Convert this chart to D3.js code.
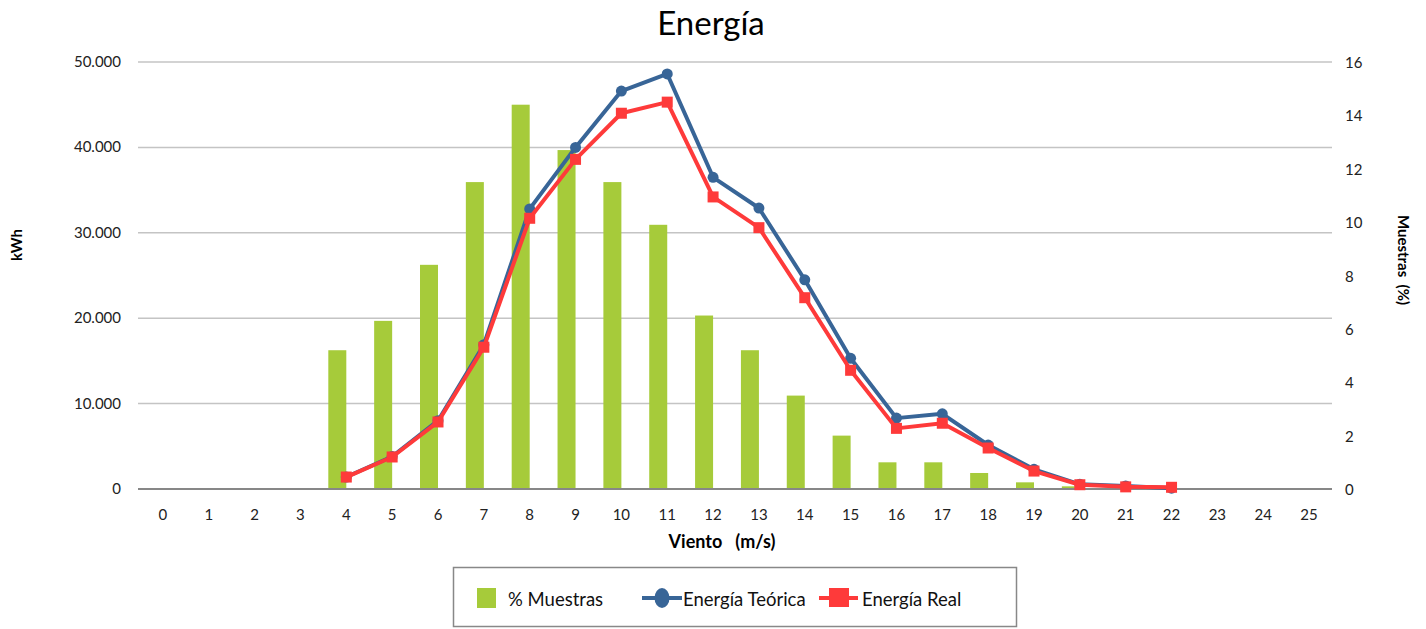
<!DOCTYPE html>
<html><head><meta charset="utf-8">
<script src="https://cdn.jsdelivr.net/npm/d3@7"></script>
<style>body{margin:0;background:#fff;} svg{display:block;font-family:Lato,"Open Sans",sans-serif;}</style>
</head><body><svg id="c" width="1426" height="629"></svg>
<script>
const categories = ["0","1","2","3","4","5","6","7","8","9","10","11","12","13","14","15","16","17","18","19","20","21","22","23","24","25"];
const muestras = [null,null,null,null,5.2,6.3,8.4,11.5,14.4,12.7,11.5,9.9,6.5,5.2,3.5,2.0,1.0,1.0,0.6,0.25,0.1,null,null,null,null,null];
const energiaTeorica = [null,null,null,null,1400,3800,8000,16900,32800,40000,46600,48600,36500,32900,24500,15300,8300,8800,5150,2300,550,350,100,null,null,null];
const energiaReal = [null,null,null,null,1400,3750,7850,16600,31700,38600,44000,45300,34200,30600,22400,13900,7100,7700,4800,2100,500,250,200,null,null,null];
const leftTicks = [0,10000,20000,30000,40000,50000];
const leftTickLabels = ["0","10.000","20.000","30.000","40.000","50.000"];
const rightTicks = [0,2,4,6,8,10,12,14,16];

const svg = d3.select("#c");
const L = 140, R = 1332, T = 62, B = 489;
const x = d3.scaleBand().domain(categories).range([L, R]).padding(0);
const yL = d3.scaleLinear().domain([0, 50000]).range([B, T]);
const yR = d3.scaleLinear().domain([0, 16]).range([B, T]);
const cx = c => x(c) + x.bandwidth() / 2;

const green = "#a6cb3a", blue = "#386597", red = "#fe3a3a";

// title
svg.append("text").attr("x", 711).attr("y", 35).attr("text-anchor", "middle")
  .attr("font-size", 33).attr("fill", "#000").text("Energía");

// gridlines
svg.append("g").selectAll("line").data(leftTicks.slice(1)).join("line")
  .attr("x1", L - 2).attr("x2", R).attr("y1", d => yL(d)).attr("y2", d => yL(d))
  .attr("stroke", "#c4c4c4").attr("stroke-width", 1.5);

// left axis labels
svg.append("g").selectAll("text").data(leftTicks).join("text")
  .attr("x", 121).attr("y", d => yL(d) + 5).attr("text-anchor", "end")
  .attr("font-size", 15).attr("fill", "#222").text((d, i) => leftTickLabels[i]);

// right axis labels
svg.append("g").selectAll("text").data(rightTicks).join("text")
  .attr("x", 1345).attr("y", d => yR(d) + 6).attr("text-anchor", "start")
  .attr("font-size", 15).attr("fill", "#222").text(d => d);

// bars
const barW = 18;
svg.append("g").selectAll("rect").data(categories.map((c, i) => ({c, v: muestras[i]})).filter(d => d.v != null))
  .join("rect")
  .attr("x", d => cx(d.c) - barW).attr("width", barW)
  .attr("y", d => yR(d.v)).attr("height", d => B - yR(d.v))
  .attr("fill", green);

// baseline
svg.append("line").attr("x1", L - 2).attr("x2", R).attr("y1", B).attr("y2", B)
  .attr("stroke", "#878787").attr("stroke-width", 2);

// x labels
svg.append("g").selectAll("text").data(categories).join("text")
  .attr("x", d => cx(d)).attr("y", 520).attr("text-anchor", "middle")
  .attr("font-size", 15).attr("fill", "#222").text(d => d);

// lines
const mk = arr => categories.map((c, i) => ({c, v: arr[i]})).filter(d => d.v != null);
const line = d3.line().x(d => cx(d.c)).y(d => yL(d.v));
const tData = mk(energiaTeorica), rData = mk(energiaReal);
svg.append("path").datum(tData).attr("d", line).attr("fill", "none")
  .attr("stroke", blue).attr("stroke-width", 4).attr("stroke-linejoin", "round");
svg.append("g").selectAll("circle").data(tData).join("circle")
  .attr("cx", d => cx(d.c)).attr("cy", d => yL(d.v)).attr("r", 5.5).attr("fill", blue);
svg.append("path").datum(rData).attr("d", line).attr("fill", "none")
  .attr("stroke", red).attr("stroke-width", 4).attr("stroke-linejoin", "round");
svg.append("g").selectAll("rect").data(rData).join("rect")
  .attr("x", d => cx(d.c) - 5.5).attr("y", d => yL(d.v) - 5.5).attr("width", 11).attr("height", 11).attr("fill", red);

// axis titles
svg.append("text").attr("transform", "translate(22,245) rotate(-90)").attr("text-anchor", "middle")
  .attr("font-size", 15).attr("font-weight", "bold").text("kWh");
svg.append("text").attr("transform", "translate(1398,260) rotate(90)").attr("text-anchor", "middle")
  .attr("font-size", 15).attr("font-weight", "bold").style("white-space", "pre").text("Muestras  (%)");
svg.append("text").attr("x", 722).attr("y", 548).attr("text-anchor", "middle")
  .attr("font-size", 18).attr("font-weight", "bold").style("white-space", "pre").text("Viento   (m/s)");

// legend
const lg = svg.append("g");
lg.append("rect").attr("x", 453.5).attr("y", 567.5).attr("width", 563).attr("height", 59)
  .attr("fill", "#fff").attr("stroke", "#888").attr("stroke-width", 1.5);
lg.append("rect").attr("x", 477).attr("y", 588).attr("width", 19).attr("height", 20).attr("fill", green);
lg.append("text").attr("x", 508).attr("y", 606).attr("font-size", 18.5).attr("fill", "#111").text("% Muestras");
lg.append("line").attr("x1", 642).attr("x2", 682).attr("y1", 598).attr("y2", 598).attr("stroke", blue).attr("stroke-width", 4);
lg.append("ellipse").attr("cx", 662).attr("cy", 598).attr("rx", 7.5).attr("ry", 10).attr("fill", blue);
lg.append("text").attr("x", 683).attr("y", 606).attr("font-size", 18.5).attr("fill", "#111").text("Energía Teórica");
lg.append("line").attr("x1", 819).attr("x2", 858).attr("y1", 598).attr("y2", 598).attr("stroke", red).attr("stroke-width", 4);
lg.append("rect").attr("x", 829).attr("y", 588).attr("width", 20).attr("height", 19).attr("fill", red);
lg.append("text").attr("x", 862).attr("y", 606).attr("font-size", 18.5).attr("fill", "#111").text("Energía Real");
</script></body></html>
